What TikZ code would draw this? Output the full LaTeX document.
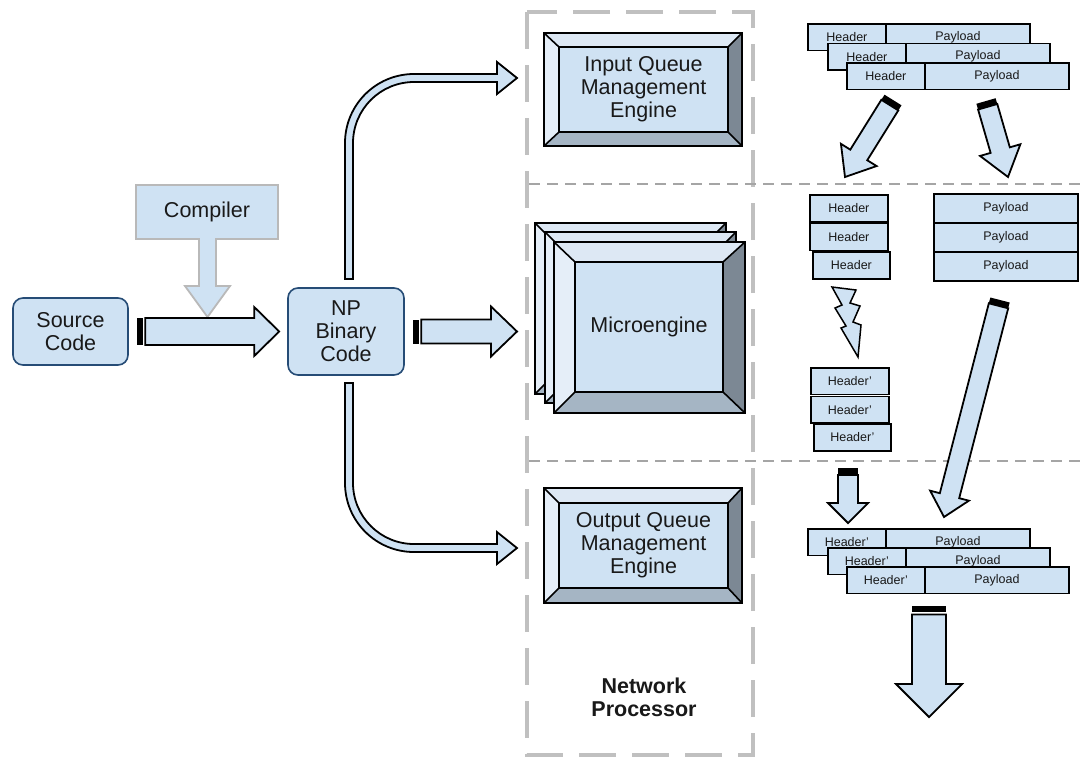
\documentclass[tikz,border=0pt]{standalone}
\usepackage{fontspec}
\setmainfont{Liberation Sans}
\usetikzlibrary{calc}
\definecolor{lblue}{RGB}{207,226,243}
\definecolor{boxblue}{RGB}{38,76,118}
\definecolor{cgray}{RGB}{185,185,185}
\definecolor{dgray}{RGB}{192,192,192}
\definecolor{hgray}{RGB}{165,165,165}
\definecolor{bvtop}{RGB}{221,232,244}
\definecolor{bvleft}{RGB}{229,238,248}
\definecolor{bvright}{RGB}{124,136,148}
\definecolor{bvbot}{RGB}{165,181,196}
\definecolor{textc}{RGB}{25,25,25}
\newcommand\txtbig{\fontsize{21.5}{23}\selectfont}
\newcommand\txtsmall{\fontsize{12.5}{14}\selectfont}
% straight block arrow: #1 from, #2 to, #3 half shaft, #4 half head, #5 head length, #6 bar length, #7 shaft start
\newcommand\blockarr[7]{%
  \path let \p1=(#1), \p2=(#2) in \pgfextra{%
    \pgfmathsetmacro\tmpang{atan2(\y2-\y1,\x2-\x1)}%
    \pgfmathsetmacro\tmplen{veclen(\x2-\x1,\y2-\y1)}%
    \xdef\Bang{\tmpang}\xdef\Blen{\tmplen}};
  \begin{scope}[shift={(#1)}, rotate=\Bang, x=1pt, y=1pt]
    \ifdim #6pt>0pt \fill[black] (0,-#3) rectangle (#6,#3); \fi
    \draw[arr] (#7,-#3) -- (\Blen-#5,-#3) -- (\Blen-#5,-#4) -- (\Blen,0) -- (\Blen-#5,#4) -- (\Blen-#5,#3) -- (#7,#3) -- cycle;
  \end{scope}}
% bevelled box: outer x1 y1 x2 y2, inner x1 y1 x2 y2
\newcommand\bevelbox[8]{%
  \fill[bvtop] (#1,#2) -- (#3,#2) -- (#7,#6) -- (#5,#6) -- cycle;
  \fill[bvleft] (#1,#2) -- (#5,#6) -- (#5,#8) -- (#1,#4) -- cycle;
  \fill[bvright] (#3,#2) -- (#3,#4) -- (#7,#8) -- (#7,#6) -- cycle;
  \fill[bvbot] (#1,#4) -- (#3,#4) -- (#7,#8) -- (#5,#8) -- cycle;
  \fill[lblue] (#5,#6) rectangle (#7,#8);
  \draw[bvline] (#1,#2) rectangle (#3,#4) (#5,#6) rectangle (#7,#8)
     (#1,#2) -- (#5,#6) (#3,#2) -- (#7,#6) (#1,#4) -- (#5,#8) (#3,#4) -- (#7,#8);}
% packet row: x, y, header label, name
\newcommand\pktrow[4]{%
  \node[pkt, minimum width=78pt] (#4h) at (#1,#2) {#3};
  \node[pkt, minimum width=144pt] (#4p) at (#1+78,#2) {Payload};}
\begin{document}
\begin{tikzpicture}[x=1pt,y=-1pt,
  bigtext/.style={font=\txtbig, text=textc, align=center, inner sep=0pt},
  rbox/.style={draw=boxblue, fill=lblue, line width=1.6pt, rounded corners=10pt, align=center, font=\txtbig, text=textc, inner sep=0pt},
  arr/.style={draw=black, fill=lblue, line width=1.8pt, line join=miter},
  bvline/.style={draw=black, line width=1.6pt, line join=miter},
  pkt/.style={draw=black, fill=lblue, line width=1.8pt, inner sep=0pt, minimum height=26.5pt, font=\txtsmall, text=textc, anchor=north west},
  stk/.style={draw=black, fill=lblue, line width=1.8pt, inner sep=0pt, font=\txtsmall, text=textc, anchor=north west}]
\useasboundingbox (0,0) rectangle (1091,756);
\fill[white] (0,0) rectangle (1091,756);
% network processor frame and separators
\draw[dgray, line width=4pt, dash pattern=on 37pt off 16pt] (527,12) rectangle (753,755);
\draw[hgray, line width=2pt, dash pattern=on 11pt off 7pt] (529,184) -- (1085,184);
\draw[hgray, line width=2pt, dash pattern=on 11pt off 7pt] (529,461) -- (1085,461);
% compiler callout
\draw[draw=cgray, fill=lblue, line width=1.8pt, line join=miter] (136,185) -- (278,185) -- (278,239) -- (216,239) -- (216,286) -- (230,286) -- (207.5,317) -- (185,286) -- (199,286) -- (199,239) -- (136,239) -- cycle;
\node[bigtext] (comp) at (207,212) {Compiler};
% source and binary
\node[rbox, minimum width=115pt, minimum height=67pt] (src) at (70.5,331.5) {Source\\Code};
\node[rbox, minimum width=116pt, minimum height=87pt] (np) at (346,331.5) {NP\\Binary\\Code};
\coordinate (a1s) at ($(src.east)+(8,0)$);
\coordinate (a1e) at ($(np.west)+(-8,0)$);
\blockarr{a1s}{a1e}{13.5}{24.5}{25}{6}{8.5}
\coordinate (a2s) at ($(np.east)+(8,0)$);
\coordinate (a2e) at (517,331.5);
\blockarr{a2s}{a2e}{12}{25}{26}{6}{8.5}
% curved arrows
\draw[arr] (345,279) -- (345,143) arc[start angle=180, end angle=270, radius=69] -- (497,74) -- (497,62) -- (517,78) -- (497,94) -- (497,82) -- (414,82) arc[start angle=270, end angle=180, radius=61] -- (353,279) -- cycle;
\draw[arr] (345,383) -- (345,483) arc[start angle=180, end angle=90, radius=69] -- (497,552) -- (497,564) -- (517,548) -- (497,532) -- (497,544) -- (414,544) arc[start angle=90, end angle=180, radius=61] -- (353,383) -- cycle;
% engines
\bevelbox{544}{33}{742}{146}{559}{47}{728}{132}
\node[bigtext] (iq) at (643.5,89.5) {Input Queue\\Management\\Engine};
\bevelbox{535}{223}{726}{394}{556}{244}{705}{373}
\bevelbox{545}{232}{736}{403}{566}{253}{715}{382}
\bevelbox{554}{242}{745}{413}{575}{262}{723}{392}
\node[bigtext] (me) at (649,327) {Microengine};
\bevelbox{544}{488}{742}{603}{559}{503}{728}{588}
\node[bigtext] (oq) at (643.5,545.5) {Output Queue\\Management\\Engine};
\node[bigtext, font=\txtbig\bfseries] (netp) at (644,697) {Network\\Processor};
% incoming packets
\pktrow{807}{23}{Header}{ia}
\pktrow{827}{42.5}{Header}{ib}
\pktrow{846}{62}{Header}{ic}
% split arrows
\coordinate (b1s) at (893,100); \coordinate (b1e) at (845,177);
\blockarr{b1s}{b1e}{10}{21}{26}{6}{6}
\coordinate (b2s) at (986,101); \coordinate (b2e) at (1008,177);
\blockarr{b2s}{b2e}{10}{21}{28}{6}{6}
% separated headers and payloads
\node[stk, minimum width=78pt, minimum height=27pt] (h1) at (809,194) {Header};
\node[stk, minimum width=78pt, minimum height=27pt] (h2) at (809,222.5) {Header};
\node[stk, minimum width=77pt, minimum height=27pt] (h3) at (812,251) {Header};
\node[stk, minimum width=144pt, minimum height=29pt] (p1) at (933,193) {Payload};
\node[stk, minimum width=144pt, minimum height=29pt] (p2) at (933,222) {Payload};
\node[stk, minimum width=144pt, minimum height=29pt] (p3) at (933,251) {Payload};
% lightning
\draw[arr, line width=1.5pt] (832,287) -- (856,290) -- (850,303) -- (860,306) -- (853,322) -- (861,325) -- (858,357) -- (841,328) -- (846,326) -- (835,308) -- (842,305) -- cycle;
\node[stk, minimum width=78pt, minimum height=26.5pt] (hp1) at (810,367) {Header'};
\node[stk, minimum width=78pt, minimum height=26.5pt] (hp2) at (810,395.5) {Header'};
\node[stk, minimum width=77pt, minimum height=27pt] (hp3) at (813,423) {Header'};
% arrows to reassembly
\coordinate (c1s) at (1000,300); \coordinate (c1e) at (944,517);
\blockarr{c1s}{c1e}{10}{20}{22}{6}{6}
\coordinate (c2s) at (848,468); \coordinate (c2e) at (848,523);
\blockarr{c2s}{c2e}{10}{20}{20}{7}{7}
% outgoing packets
\pktrow{807}{528}{Header'}{oa}
\pktrow{827}{547}{Header'}{ob}
\pktrow{846}{566}{Header'}{oc}
\coordinate (d1s) at (929,606); \coordinate (d1e) at (929,717);
\blockarr{d1s}{d1e}{17}{33}{33}{6}{8.5}
\end{tikzpicture}
\end{document}
